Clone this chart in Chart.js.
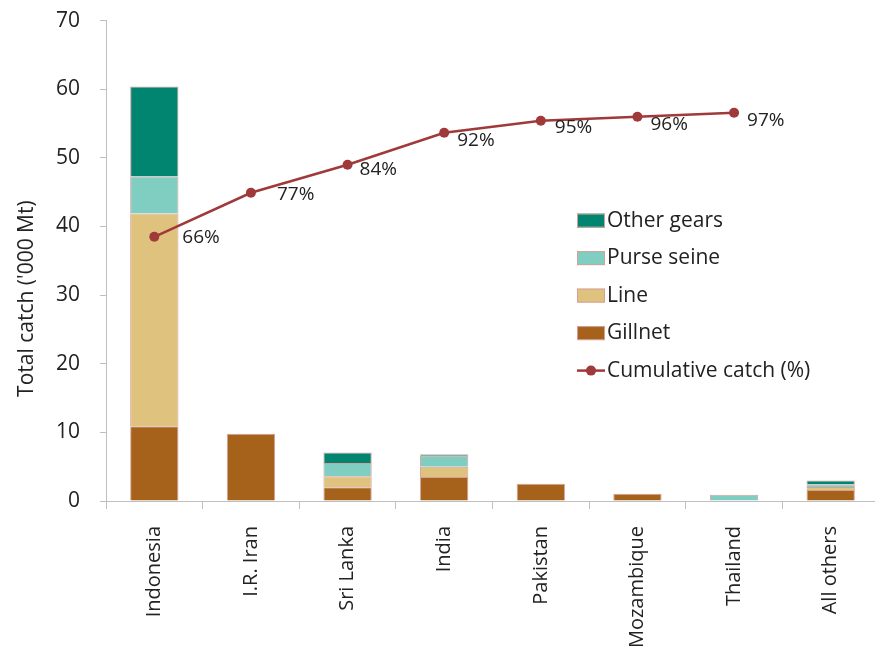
<!DOCTYPE html>
<html>
<head>
<meta charset="utf-8">
<script src="https://cdn.jsdelivr.net/npm/chart.js@4"></script>
<style>
html, body { margin: 0; padding: 0; background: #fff; overflow: hidden; }
#wrap { width: 884px; height: 666px; margin-top: -12px; }
</style>
</head>
<body>
<div id="wrap"><canvas id="catchChart"></canvas></div>
<script>
// catch by country and gear ('000 Mt)
const countries = ["Indonesia", "I.R. Iran", "Sri Lanka", "India", "Pakistan", "Mozambique", "Thailand", "All others"]
const gillnet = [10.9, 9.8, 2.0, 3.5, 2.5, 1.05, null, 1.6]
const lineGear = [31.0, null, 1.6, 1.5, null, null, null, 0.45]
const purseSeine = [5.4, null, 1.95, 1.6, null, null, 0.9, 0.4]
const otherGears = [13.1, null, 1.5, 0.2, null, null, null, 0.55]
const cumulativePct = [66, 77, 84, 92, 95, 96, 97, null]
const yTickStep = 10
const yMax = 70
const pctMax = 120

const textColor = "#222"
const axisColor = "#BFBFBF"
const fontFamily = "'Open Sans', sans-serif"
const cumColor = "#A0393A"
const barBorder = "#D4A09C"

// label nudges for the % labels, in px (dx, dy)
const pctLabelShift = [[28, 1], [26, 2], [12, 5], [13, 8], [14, 7], [13, 8], [13, 8]]

const extras = {
    id: "extras",
    afterDatasetsDraw(chart) {
        const ctx = chart.ctx
        const area = chart.chartArea
        ctx.save()
        // percentage labels
        const lineIdx = chart.data.datasets.findIndex(d => d.type === "line")
        const meta = chart.getDatasetMeta(lineIdx)
        ctx.font = "19px " + fontFamily
        ctx.fillStyle = textColor
        ctx.textAlign = "left"
        ctx.textBaseline = "middle"
        meta.data.forEach((pt, i) => {
            const v = cumulativePct[i]
            if (v === null || pt.skip) return
            const s = pctLabelShift[i] || [14, 7]
            ctx.fillText(v + "%", pt.x + s[0], pt.y + s[1])
        })

        // legend inside plot
        const lx = area.left + 471, ly = area.top + 200, gap = 37.5
        const order = [3, 2, 1, 0, lineIdx]
        order.forEach((di, k) => {
            const ds = chart.data.datasets[di]
            const y = ly + k * gap
            if (ds.type === "line") {
                ctx.strokeStyle = ds.borderColor
                ctx.lineWidth = 2.5
                ctx.beginPath()
                ctx.moveTo(lx, y)
                ctx.lineTo(lx + 28, y)
                ctx.stroke()
                ctx.fillStyle = ds.borderColor
                ctx.beginPath()
                ctx.arc(lx + 14, y, 5, 0, Math.PI * 2)
                ctx.fill()
            } else {
                ctx.fillStyle = ds.backgroundColor
                ctx.fillRect(lx, y - 7, 28, 14)
                ctx.strokeStyle = barBorder
                ctx.lineWidth = 1
                ctx.strokeRect(lx + 0.5, y - 6.5, 27, 13)
            }
            ctx.fillStyle = textColor
            ctx.font = "21px " + fontFamily
            ctx.textAlign = "left"
            ctx.fillText(ds.label, lx + 30, y)
        })

        // y axis title
        ctx.font = "21px " + fontFamily
        ctx.translate(27, area.top + 278)
        ctx.rotate(-Math.PI / 2)
        ctx.textAlign = "center"
        ctx.fillText("Total catch ('000 Mt)", 0, 0)
        ctx.restore()
    }
}

new Chart(document.getElementById("catchChart").getContext("2d"), {
    type: "bar",
    data: {
        labels: countries,
        datasets: [
            { label: "Gillnet", data: gillnet, backgroundColor: "#A6611A", borderColor: barBorder, borderWidth: 1, order: 1 },
            { label: "Line", data: lineGear, backgroundColor: "#DFC27D", borderColor: barBorder, borderWidth: 1, order: 1 },
            { label: "Purse seine", data: purseSeine, backgroundColor: "#80CDC1", borderColor: barBorder, borderWidth: 1, order: 1 },
            { label: "Other gears", data: otherGears, backgroundColor: "#018571", borderColor: barBorder, borderWidth: 1, order: 1 },
            {
                type: "line",
                label: "Cumulative catch (%)",
                data: cumulativePct,
                yAxisID: "y2",
                borderColor: cumColor,
                backgroundColor: cumColor,
                borderWidth: 2.5,
                pointRadius: 5,
                pointBackgroundColor: cumColor,
                pointBorderWidth: 0,
                tension: 0,
                order: 0
            }
        ]
    },
    options: {
        responsive: true,
        maintainAspectRatio: false,
        animation: false,
        layout: { padding: { top: 8, right: 2, left: 0, bottom: 0 } },
        datasets: { bar: { categoryPercentage: 1, barPercentage: 0.5 } },
        scales: {
            x: {
                stacked: true,
                ticks: {
                    color: textColor,
                    font: { size: 20, family: fontFamily },
                    minRotation: 90,
                    maxRotation: 90,
                    padding: 17,
                    autoSkip: false
                },
                grid: { offset: true, drawOnChartArea: false, drawTicks: true, tickLength: 8, color: axisColor },
                border: { color: axisColor },
                afterFit(s) { s.height = 153 }
            },
            y: {
                stacked: true,
                min: 0,
                max: yMax,
                ticks: {
                    stepSize: yTickStep,
                    color: textColor,
                    font: { size: 21, family: fontFamily },
                    padding: 20
                },
                grid: { drawOnChartArea: false, drawTicks: true, tickLength: 6, color: axisColor },
                border: { color: axisColor },
                afterFit(s) { s.width = 106 }
            },
            y2: {
                display: false,
                stacked: false,
                min: 0,
                max: pctMax
            }
        },
        plugins: {
            legend: { display: false },
            tooltip: { enabled: false }
        }
    },
    plugins: [extras]
})
</script>
</body>
</html>
